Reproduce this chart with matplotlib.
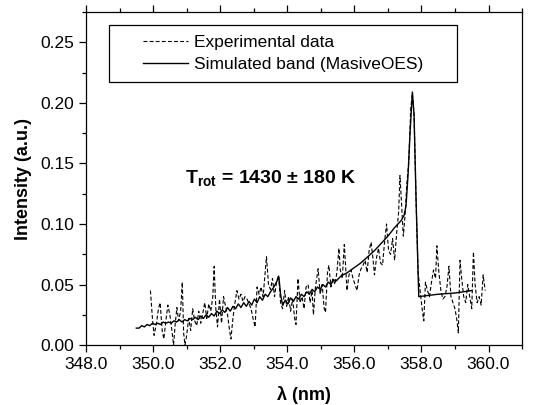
import matplotlib
matplotlib.use("Agg")
import matplotlib.pyplot as plt
from matplotlib.patches import Rectangle
from matplotlib.ticker import MultipleLocator, FormatStrFormatter

plt.rcParams['font.family'] = ['Liberation Sans', 'DejaVu Sans']
plt.rcParams['mathtext.fontset'] = 'custom'
plt.rcParams['mathtext.rm'] = 'Liberation Sans'
plt.rcParams['mathtext.bf'] = 'Liberation Sans:bold'

# experimental spectrum
exp_x = [349.92, 349.98, 350.03, 350.10, 350.16, 350.21, 350.27, 350.32, 350.38, 350.44,
         350.50, 350.56, 350.61, 350.66, 350.71, 350.76, 350.82, 350.87, 350.91, 350.95,
         351.00, 351.06, 351.12, 351.18, 351.24, 351.30, 351.36, 351.42, 351.48, 351.54,
         351.60, 351.66, 351.72, 351.78, 351.82, 351.87, 351.92, 351.98, 352.04, 352.10,
         352.16, 352.22, 352.28, 352.32, 352.38, 352.44, 352.50, 352.56, 352.62, 352.68,
         352.74, 352.80, 352.86, 352.92, 352.98, 353.04, 353.10, 353.16, 353.22, 353.28,
         353.34, 353.38, 353.44, 353.50, 353.56, 353.62, 353.68, 353.74, 353.80, 353.86,
         353.92, 353.98, 354.04, 354.10, 354.16, 354.22, 354.26, 354.32, 354.38, 354.44,
         354.50, 354.56, 354.62, 354.68, 354.74, 354.78, 354.84, 354.92, 354.98, 355.04,
         355.10, 355.14, 355.20, 355.24, 355.30, 355.36, 355.42, 355.48, 355.54, 355.58,
         355.64, 355.70, 355.74, 355.78, 355.84, 355.90, 355.96, 356.02, 356.08, 356.14,
         356.20, 356.26, 356.32, 356.38, 356.44, 356.50, 356.56, 356.60, 356.66, 356.72,
         356.78, 356.84, 356.90, 356.96, 357.02, 357.08, 357.14, 357.20, 357.26, 357.32,
         357.36, 357.40, 357.46, 357.52, 357.56, 357.62, 357.68, 357.73, 357.78, 357.84,
         357.90, 357.96, 358.02, 358.07, 358.12, 358.18, 358.24, 358.30, 358.36, 358.42,
         358.46, 358.52, 358.58, 358.64, 358.70, 358.76, 358.82, 358.88, 358.94, 359.00,
         359.06, 359.10, 359.15, 359.20, 359.26, 359.32, 359.38, 359.44, 359.50, 359.55,
         359.60, 359.66, 359.72, 359.78, 359.84, 359.90]
exp_y = [0.045, 0.022, 0.008, 0.018, 0.030, 0.035, 0.012, 0.005, 0.020, 0.033,
         0.025, 0.012, 0.000, 0.018, 0.031, 0.020, 0.028, 0.052, 0.010, 0.000,
         0.008, 0.022, 0.012, 0.030, 0.020, 0.016, 0.028, 0.018, 0.026, 0.035,
         0.022, 0.034, 0.028, 0.040, 0.065, 0.030, 0.015, 0.038, 0.018, 0.040,
         0.032, 0.025, 0.012, 0.005, 0.022, 0.035, 0.045, 0.038, 0.042, 0.036,
         0.040, 0.038, 0.034, 0.030, 0.022, 0.015, 0.048, 0.042, 0.048, 0.040,
         0.060, 0.073, 0.050, 0.046, 0.055, 0.040, 0.052, 0.058, 0.035, 0.030,
         0.045, 0.032, 0.040, 0.028, 0.038, 0.022, 0.017, 0.055, 0.035, 0.040,
         0.030, 0.048, 0.050, 0.035, 0.045, 0.025, 0.048, 0.063, 0.042, 0.050,
         0.030, 0.027, 0.060, 0.066, 0.048, 0.055, 0.050, 0.060, 0.080, 0.062,
         0.055, 0.083, 0.065, 0.045, 0.058, 0.062, 0.055, 0.050, 0.045, 0.058,
         0.063, 0.066, 0.070, 0.060, 0.078, 0.085, 0.070, 0.058, 0.072, 0.080,
         0.068, 0.066, 0.085, 0.100, 0.078, 0.075, 0.088, 0.070, 0.092, 0.110,
         0.140, 0.120, 0.090, 0.110, 0.132, 0.150, 0.195, 0.208, 0.190, 0.120,
         0.060, 0.045, 0.030, 0.020, 0.052, 0.045, 0.040, 0.052, 0.062, 0.055,
         0.082, 0.060, 0.045, 0.038, 0.040, 0.048, 0.065, 0.040, 0.035, 0.030,
         0.020, 0.010, 0.070, 0.055, 0.040, 0.035, 0.050, 0.040, 0.030, 0.077,
         0.050, 0.035, 0.040, 0.033, 0.058, 0.045]

# simulated band (MasiveOES)
sim_x = [349.50, 349.58, 349.66, 349.74, 349.82, 349.90, 349.98, 350.06, 350.14, 350.22,
         350.30, 350.38, 350.46, 350.54, 350.62, 350.70, 350.78, 350.86, 350.94, 351.02,
         351.10, 351.18, 351.26, 351.34, 351.42, 351.50, 351.58, 351.66, 351.74, 351.82,
         351.90, 351.98, 352.06, 352.14, 352.22, 352.30, 352.38, 352.46, 352.54, 352.62,
         352.70, 352.78, 352.86, 352.94, 353.02, 353.10, 353.18, 353.26, 353.34, 353.42,
         353.50, 353.58, 353.66, 353.75, 353.80, 353.86, 353.94, 354.02, 354.10, 354.18,
         354.26, 354.34, 354.42, 354.50, 354.58, 354.66, 354.74, 354.82, 354.90, 354.98,
         355.06, 355.14, 355.22, 355.30, 355.38, 355.46, 355.60, 355.80, 356.00, 356.20,
         356.40, 356.60, 356.80, 357.00, 357.20, 357.40, 357.48, 357.54, 357.60, 357.66,
         357.73, 357.78, 357.84, 357.92, 358.50, 359.00, 359.50]
sim_y = [0.014, 0.014, 0.016, 0.015, 0.017, 0.016, 0.018, 0.017, 0.018, 0.017,
         0.019, 0.018, 0.019, 0.018, 0.020, 0.019, 0.021, 0.019, 0.021, 0.020,
         0.022, 0.021, 0.023, 0.021, 0.024, 0.022, 0.025, 0.023, 0.026, 0.024,
         0.028, 0.026, 0.029, 0.027, 0.031, 0.028, 0.032, 0.030, 0.034, 0.031,
         0.035, 0.032, 0.036, 0.033, 0.038, 0.035, 0.040, 0.037, 0.042, 0.040,
         0.044, 0.047, 0.051, 0.056, 0.042, 0.033, 0.037, 0.034, 0.039, 0.036,
         0.040, 0.038, 0.042, 0.040, 0.044, 0.042, 0.046, 0.044, 0.048, 0.046,
         0.050, 0.048, 0.052, 0.050, 0.054, 0.053, 0.057, 0.060, 0.064, 0.068,
         0.073, 0.078, 0.084, 0.090, 0.097, 0.103, 0.107, 0.115, 0.140, 0.175,
         0.209, 0.190, 0.120, 0.040, 0.042, 0.043, 0.045]

fig = plt.figure(figsize=(5.41, 4.05), dpi=100)
ax = fig.add_axes([0.159, 0.148, 0.806, 0.822])

ax.plot(exp_x, exp_y, color='black', lw=0.8, ls=(0, (3.5, 2)), label='Experimental data')
ax.plot(sim_x, sim_y, color='black', lw=1.0, label='Simulated band (MasiveOES)')

ax.set_xlim(348, 361)
ax.set_ylim(0, 0.275)
ax.xaxis.set_major_locator(MultipleLocator(2))
ax.xaxis.set_minor_locator(MultipleLocator(1))
ax.yaxis.set_major_locator(MultipleLocator(0.05))
ax.yaxis.set_minor_locator(MultipleLocator(0.025))
ax.xaxis.set_major_formatter(FormatStrFormatter('%.1f'))
ax.yaxis.set_major_formatter(FormatStrFormatter('%.2f'))
ax.tick_params(which='both', direction='out', labelsize=12.5, width=0.9)
ax.tick_params(which='major', length=5)
ax.tick_params(which='minor', length=3)
ax.tick_params(which='both', top=True, labeltop=False)
for s in ax.spines.values():
    s.set_linewidth(0.9)

ax.set_xlabel('λ (nm)', fontsize=13, fontweight='bold', labelpad=10)
ax.set_ylabel('Intensity (a.u.)', fontsize=13, fontweight='bold', labelpad=6)

ax.text(350.95, 0.133, r'T$_{\mathbf{rot}}$ = 1430 ± 180 K', fontsize=14,
        fontweight='bold')

# legend frame drawn separately so the entries sit centred with wide side margins
ax.add_patch(Rectangle((0.053, 0.790), 0.798, 0.171, transform=ax.transAxes,
                       fill=False, edgecolor='black', lw=0.9, zorder=5))
leg = ax.legend(loc='center', bbox_to_anchor=(0.452, 0.876), frameon=False,
                fontsize=12.5, handlelength=2.6, handletextpad=0.3, labelspacing=0.35)

fig.savefig('out.png', dpi=100)
